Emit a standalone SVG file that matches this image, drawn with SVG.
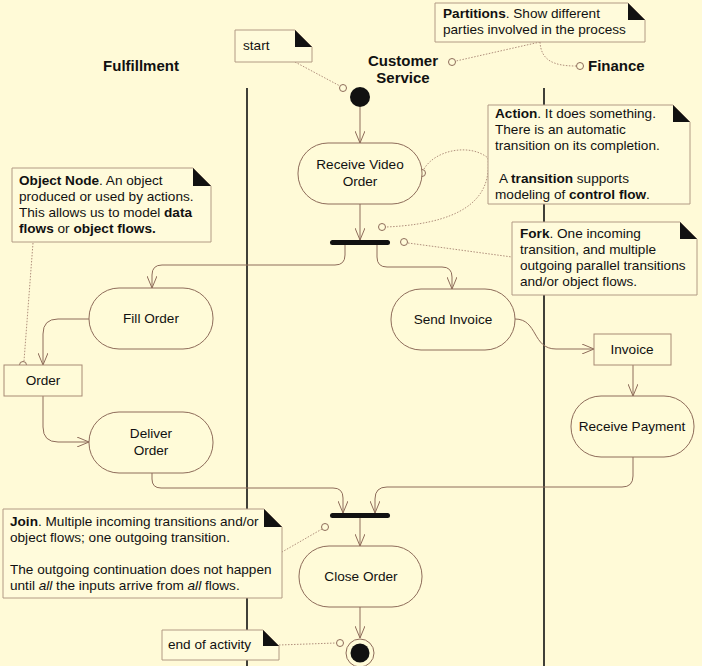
<svg xmlns="http://www.w3.org/2000/svg" width="702" height="666" viewBox="0 0 702 666">
  <defs>
    <marker id="open-arrow" viewBox="0 0 12 10" refX="12" refY="5" markerUnits="userSpaceOnUse" markerWidth="12" markerHeight="10" orient="auto">
      <path d="M0,0 L12,5 L0,10" fill="none" stroke="#8e6c5a" stroke-width="1"/>
    </marker>
    <style>
      text { font-family: "Liberation Sans", Arial, sans-serif; fill: #111; }
      .lbl { font-size: 13.6px; }
      .hdr { font-size: 15px; font-weight: bold; }
      .b { font-weight: bold; }
      .i { font-style: italic; }
      .action { fill: #fffbd8; stroke: #8e6c5a; stroke-width: 1; }
      .obj { fill: #fffbd8; stroke: #a88a74; stroke-width: 1; }
      .note { fill: #fffbdb; stroke: #b29a84; stroke-width: 1; }
      .ear { fill: #111; }
      .flow { fill: none; stroke: #8e6c5a; stroke-width: 1; marker-end: url(#open-arrow); }
      .link { fill: none; stroke: #b08f7c; stroke-width: 1; stroke-dasharray: 1.5 1.5; }
      .pin { fill: #fffbd8; stroke: #8e6c5a; stroke-width: 1; }
      .lane { stroke: #111; stroke-width: 1.6; }
      .bar { fill: #111; }
    </style>
  </defs>

  <rect x="0" y="0" width="702" height="666" fill="#fffad7"/>

  <!-- swimlanes -->
  <g id="lanes">
    <line class="lane" x1="247" y1="88" x2="247" y2="666"/>
    <line class="lane" x1="544" y1="88" x2="544" y2="666"/>
    <text class="hdr" x="141" y="71" text-anchor="middle">Fulfillment</text>
    <text class="hdr" x="403" y="66" text-anchor="middle">Customer</text>
    <text class="hdr" x="403" y="83" text-anchor="middle">Service</text>
    <text class="hdr" x="588" y="71">Finance</text>
  </g>

  <!-- control and object flows -->
  <g id="connectors">
    <path class="flow" d="M360,107 V143"/>
    <path class="flow" d="M360,204 V240"/>
    <path class="flow" d="M345,245 V255 Q345,265 335,265 H162 Q152,265 152,275 V288"/>
    <path class="flow" d="M377,245 V257 Q377,267 387,267 H442 Q452,267 452,277 V289"/>
    <path class="flow" d="M89,319 H58 Q43,319 43,334 V365"/>
    <path class="flow" d="M43,396 V427 Q43,442 58,442 H89"/>
    <path class="flow" d="M152,473 V479 Q152,488 161,488 H333 Q343,488 343,498 V513"/>
    <path class="flow" d="M633,457 V476 Q633,487 622,487 H387 Q375,487 375,499 V513"/>
    <path class="flow" d="M515,319 C538,319 532,349 556,349 H594"/>
    <path class="flow" d="M633,365 V396"/>
    <path class="flow" d="M360,518 V546"/>
    <path class="flow" d="M360,607 V638"/>
  </g>

  <!-- notes anchors -->
  <g id="note-links">
    <path class="link" d="M295,62 L340,86"/>
    <circle class="pin" cx="343" cy="88" r="3.5"/>
    <path class="link" d="M540,42 L456,61"/>
    <circle class="pin" cx="452" cy="62" r="3.5"/>
    <path class="link" d="M540,42 C541,60 553,66 576,66"/>
    <circle class="pin" cx="580" cy="66" r="3.5"/>
    <path class="link" d="M424,169 C435,150 470,143 488,158 C491,190 476,223 386,227"/>
    <circle class="pin" cx="422" cy="173" r="3.5"/>
    <circle class="pin" cx="382" cy="227" r="3.5"/>
    <path class="link" d="M408,243 L512,257"/>
    <circle class="pin" cx="404" cy="242" r="3.5"/>
    <path class="link" d="M33,243 L24,361"/>
    <circle class="pin" cx="23" cy="365" r="3.5"/>
    <path class="link" d="M322,529 L282,552"/>
    <circle class="pin" cx="325" cy="527" r="3.5"/>
    <path class="link" d="M279,645 L336,643"/>
    <circle class="pin" cx="340" cy="643" r="3.5"/>
  </g>

  <g id="start">
    <circle cx="360" cy="97" r="10" fill="#111"/>
  </g>

  <g id="receive-video-order">
    <rect class="action" x="298" y="143" width="124" height="61" rx="30" ry="30"/>
    <text class="lbl" x="360" y="169" text-anchor="middle">Receive Video</text>
    <text class="lbl" x="360" y="186" text-anchor="middle">Order</text>
  </g>

  <g id="fork">
    <rect class="bar" x="330" y="240" width="60" height="5" rx="2.5"/>
  </g>

  <g id="fill-order">
    <rect class="action" x="89" y="288" width="124" height="61" rx="30" ry="30"/>
    <text class="lbl" x="151" y="323" text-anchor="middle">Fill Order</text>
  </g>

  <g id="order">
    <rect class="obj" x="4" y="365" width="78" height="31"/>
    <text class="lbl" x="43" y="385" text-anchor="middle">Order</text>
  </g>

  <g id="deliver-order">
    <rect class="action" x="89" y="412" width="124" height="61" rx="30" ry="30"/>
    <text class="lbl" x="151" y="438" text-anchor="middle">Deliver</text>
    <text class="lbl" x="151" y="455" text-anchor="middle">Order</text>
  </g>

  <g id="send-invoice">
    <rect class="action" x="391" y="289" width="124" height="61" rx="30" ry="30"/>
    <text class="lbl" x="453" y="324" text-anchor="middle">Send Invoice</text>
  </g>

  <g id="invoice">
    <rect class="obj" x="594" y="334" width="77" height="31"/>
    <text class="lbl" x="632" y="354" text-anchor="middle">Invoice</text>
  </g>

  <g id="receive-payment">
    <rect class="action" x="571" y="396" width="123" height="61" rx="30" ry="30"/>
    <text class="lbl" x="632" y="431" text-anchor="middle">Receive Payment</text>
  </g>

  <g id="join">
    <rect class="bar" x="330" y="513" width="60" height="5" rx="2.5"/>
  </g>

  <g id="close-order">
    <rect class="action" x="299" y="546" width="123" height="61" rx="30" ry="30"/>
    <text class="lbl" x="361" y="581" text-anchor="middle">Close Order</text>
  </g>

  <g id="end">
    <circle cx="360" cy="653" r="14" fill="#fffbd8" stroke="#8e6c5a" stroke-width="1"/>
    <circle cx="360" cy="653" r="9.5" fill="#111"/>
  </g>

  <!-- notes -->
  <g id="note-start">
    <path class="note" d="M235,30 H295 L312,47 V62 H235 Z"/>
    <path class="ear" d="M295,30 L312,47 H295 Z"/>
    <text class="lbl" x="243" y="50">start</text>
  </g>

  <g id="note-partitions">
    <path class="note" d="M435,3 H628 L645,20 V42 H435 Z"/>
    <path class="ear" d="M628,3 L645,20 H628 Z"/>
    <text class="lbl" x="443" y="18"><tspan class="b">Partitions</tspan>. Show different</text>
    <text class="lbl" x="443" y="34">parties involved in the process</text>
  </g>

  <g id="note-action">
    <path class="note" d="M488,105 H673 L690,122 V204 H488 Z"/>
    <path class="ear" d="M673,105 L690,122 H673 Z"/>
    <text class="lbl" x="495" y="118"><tspan class="b">Action</tspan>. It does something.</text>
    <text class="lbl" x="495" y="134">There is an automatic</text>
    <text class="lbl" x="495" y="150">transition on its completion.</text>
    <text class="lbl" x="499" y="183">A <tspan class="b">transition</tspan> supports</text>
    <text class="lbl" x="495" y="199">modeling of <tspan class="b">control flow</tspan>.</text>
  </g>

  <g id="note-fork">
    <path class="note" d="M512,222 H680 L697,239 V295 H512 Z"/>
    <path class="ear" d="M680,222 L697,239 H680 Z"/>
    <text class="lbl" x="520" y="238"><tspan class="b">Fork</tspan>. One incoming</text>
    <text class="lbl" x="520" y="254">transition, and multiple</text>
    <text class="lbl" x="520" y="270">outgoing parallel transitions</text>
    <text class="lbl" x="520" y="286">and/or object flows.</text>
  </g>

  <g id="note-object">
    <path class="note" d="M12,168 H193 L211,186 V242 H12 Z"/>
    <path class="ear" d="M193,168 L211,186 H193 Z"/>
    <text class="lbl" x="19" y="185"><tspan class="b">Object Node</tspan>. An object</text>
    <text class="lbl" x="19" y="201">produced or used by actions.</text>
    <text class="lbl" x="19" y="217">This allows us to model <tspan class="b">data</tspan></text>
    <text class="lbl" x="19" y="233"><tspan class="b">flows</tspan> or <tspan class="b">object flows.</tspan></text>
  </g>

  <g id="note-join">
    <path class="note" d="M3,509 H264 L282,527 V598 H3 Z"/>
    <path class="ear" d="M264,509 L282,527 H264 Z"/>
    <text class="lbl" x="10" y="526"><tspan class="b">Join</tspan>. Multiple incoming transitions and/or</text>
    <text class="lbl" x="10" y="542">object flows; one outgoing transition.</text>
    <text class="lbl" x="10" y="574">The outgoing continuation does not happen</text>
    <text class="lbl" x="10" y="590">until <tspan class="i">all</tspan> the inputs arrive from <tspan class="i">all</tspan> flows.</text>
  </g>

  <g id="note-end">
    <path class="note" d="M162,630 H263 L279,646 V660 H162 Z"/>
    <path class="ear" d="M263,630 L279,646 H263 Z"/>
    <text class="lbl" x="168" y="649">end of activity</text>
  </g>
</svg>
